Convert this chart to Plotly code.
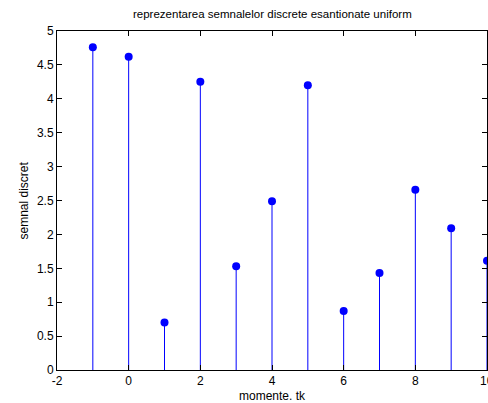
import plotly.graph_objects as go

tk = [-1, 0, 1, 2, 3, 4, 5, 6, 7, 8, 9, 10]
semnal = [4.76, 4.62, 0.70, 4.25, 1.53, 2.49, 4.20, 0.87, 1.43, 2.66, 2.09, 1.61]
x_ticks = [-2, 0, 2, 4, 6, 8, 10]
x_labels = ["-2", "0", "2", "4", "6", "8", "10"]
y_ticks = [0, 0.5, 1, 1.5, 2, 2.5, 3, 3.5, 4, 4.5, 5]
y_labels = ["0", "0.5", "1", "1.5", "2", "2.5", "3", "3.5", "4", "4.5", "5"]

stem_x, stem_y = [], []
for xv, yv in zip(tk, semnal):
    stem_x += [xv, xv, None]
    stem_y += [0, yv, None]

fig = go.Figure()
fig.add_trace(go.Scatter(x=stem_x, y=stem_y, mode="lines",
                         line=dict(color="#0000ff", width=1),
                         hoverinfo="skip", showlegend=False, cliponaxis=False))
fig.add_trace(go.Scatter(x=tk, y=semnal, mode="markers",
                         marker=dict(color="#0000ff", size=8),
                         showlegend=False, cliponaxis=False))

font = "Liberation Sans, Arial, sans-serif"
axis_common = dict(showgrid=False, zeroline=False, showline=True, linecolor="black",
                   linewidth=1, mirror="ticks", ticks="inside", ticklen=5,
                   tickcolor="black", automargin=False,
                   tickfont=dict(family=font, size=12, color="black"))

# the last x tick label overflows the figure edge (as in the reference), so it is
# drawn as an annotation because plotly drops overflowing tick labels
shown_x_labels = x_labels[:-1] + [""]

fig.update_layout(
    width=488, height=403,
    margin=dict(l=57, r=1, t=31, b=33),
    paper_bgcolor="white", plot_bgcolor="white",
    xaxis=dict(range=[-2, 10], tickvals=x_ticks, ticktext=shown_x_labels, **axis_common),
    yaxis=dict(range=[0, 5], tickvals=y_ticks, ticktext=y_labels, **axis_common),
    annotations=[
        dict(text="reprezentarea semnalelor discrete esantionate uniform",
             xref="paper", yref="paper", x=0.5, y=1, yshift=17, showarrow=False,
             xanchor="center", yanchor="middle",
             font=dict(family=font, size=11.5, color="black")),
        dict(text="momente. tk", xref="paper", yref="paper", x=0.5, y=0, yshift=-26,
             showarrow=False, xanchor="center", yanchor="middle",
             font=dict(family=font, size=12, color="black")),
        dict(text="semnal discret", xref="paper", yref="paper", x=0, xshift=-34, y=0.5,
             textangle=-90, showarrow=False, xanchor="center", yanchor="middle",
             font=dict(family=font, size=12, color="black")),
        dict(text=x_labels[-1], xref="x", yref="paper", x=x_ticks[-1], y=0, yshift=-11,
             showarrow=False, xanchor="center", yanchor="middle",
             font=dict(family=font, size=12, color="black")),
    ],
)

fig.write_html("out.html", config={"displayModeBar": False},
               post_script="document.body.style.margin='0';document.body.style.overflow='hidden';")
